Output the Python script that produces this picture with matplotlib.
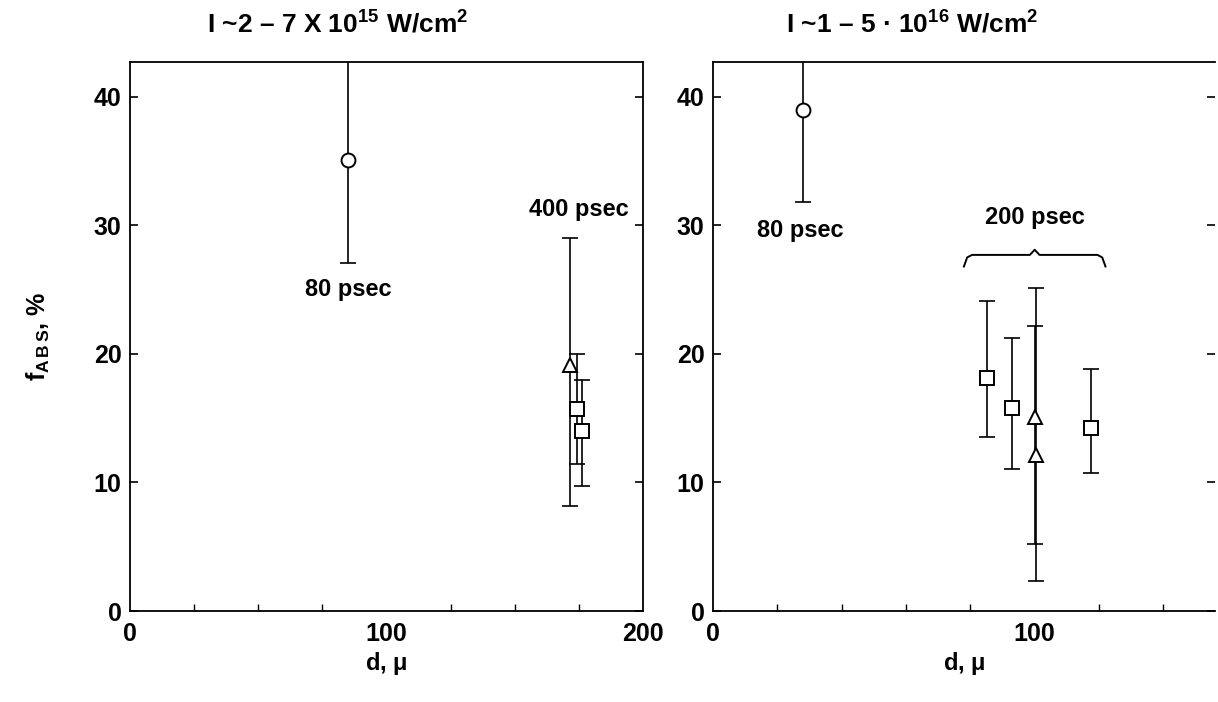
import matplotlib.pyplot as plt
import numpy as np
from matplotlib.ticker import MultipleLocator

plt.rcParams['font.family'] = ['Liberation Sans', 'DejaVu Sans']
plt.rcParams['font.weight'] = 'bold'
plt.rcParams['axes.titleweight'] = 'bold'
plt.rcParams['axes.labelweight'] = 'bold'
plt.rcParams['mathtext.fontset'] = 'custom'
plt.rcParams['mathtext.rm'] = 'Liberation Sans:bold'
plt.rcParams['mathtext.bf'] = 'Liberation Sans:bold'
plt.rcParams['mathtext.it'] = 'Liberation Sans:bold:italic'
plt.rcParams['mathtext.default'] = 'bf'

# left panel: I ~ 2-7e15 W/cm2
l_circ_x, l_circ_y, l_circ_lo, l_circ_hi = [85], [35.1], [27.1], [46.0]
l_tri_x, l_tri_y, l_tri_lo, l_tri_hi = [171.5], [19.1], [8.2], [29.0]
l_sq_x = [174.3, 176.3]
l_sq_y = [15.7, 14.0]
l_sq_lo = [11.4, 9.7]
l_sq_hi = [20.0, 18.0]

# right panel: I ~ 1-5e16 W/cm2
r_circ_x, r_circ_y, r_circ_lo, r_circ_hi = [28], [39.0], [31.8], [46.0]
r_sq_x = [85.3, 92.8, 117.5]
r_sq_y = [18.1, 15.8, 14.2]
r_sq_lo = [13.5, 11.05, 10.7]
r_sq_hi = [24.1, 21.2, 18.8]
r_tri_x = [100.0, 100.4]
r_tri_y = [15.1, 12.1]
r_tri_lo = [5.2, 2.3]
r_tri_hi = [22.2, 25.1]

brace_x = (78, 122)
brace_y = 27.7

fig = plt.figure(figsize=(12.18, 7.02), dpi=100)
ax1 = fig.add_axes([0.1067, 0.1296, 0.4212, 0.782])
ax2 = fig.add_axes([0.5854, 0.1296, 0.412, 0.782])

ebkw = dict(fmt='none', ecolor='black', elinewidth=1.2, capsize=5.5, capthick=1.2)
mkw = dict(ls='none', mfc='white', mec='black', mew=1.4, ms=10, zorder=5, clip_on=False)


def errs(y, lo, hi):
    y = np.array(y)
    return [y - np.array(lo), np.array(hi) - y]


def points(ax, x, y, lo, hi, marker):
    ax.errorbar(x, y, yerr=errs(y, lo, hi), **ebkw)
    ax.plot(x, y, marker=marker, **mkw)


points(ax1, l_circ_x, l_circ_y, l_circ_lo, l_circ_hi, 'o')
points(ax1, l_tri_x, l_tri_y, l_tri_lo, l_tri_hi, '^')
points(ax1, l_sq_x, l_sq_y, l_sq_lo, l_sq_hi, 's')

points(ax2, r_circ_x, r_circ_y, r_circ_lo, r_circ_hi, 'o')
points(ax2, r_sq_x, r_sq_y, r_sq_lo, r_sq_hi, 's')
points(ax2, r_tri_x, r_tri_y, r_tri_lo, r_tri_hi, '^')

ax1.set_xlim(0, 200)
ax2.set_xlim(0, 156)
for ax in (ax1, ax2):
    ax.set_ylim(0, 42.7)
    ax.yaxis.set_major_locator(MultipleLocator(10))
    ax.tick_params(axis='y', which='major', direction='in', length=6, width=1.2,
                   labelsize=18, right=True, pad=6)
    ax.tick_params(axis='x', which='major', direction='in', length=0,
                   labelsize=18, pad=8)
    ax.tick_params(axis='x', which='minor', direction='in', length=5, width=1.0)
    for s in ax.spines.values():
        s.set_linewidth(1.3)
    ax.set_xlabel('d, $\\mu$', fontsize=17, labelpad=3)

ax1.xaxis.set_major_locator(MultipleLocator(100))
ax1.xaxis.set_minor_locator(MultipleLocator(25))
ax2.xaxis.set_major_locator(MultipleLocator(100))
ax2.xaxis.set_minor_locator(MultipleLocator(20))
ax2.spines['right'].set_visible(False)

ax1.set_ylabel('f$_{A\\,B\\,S}$, %', fontsize=18, labelpad=30)

ttl = dict(fontsize=19, fontweight='bold', ha='center', va='center')
fig.text(338 / 1218, 1 - 24 / 702, 'I ~2 \u2013 7 X 10$^{15}$ W/cm$^2$', **ttl)
fig.text(912 / 1218, 1 - 24 / 702, 'I ~1 \u2013 5 \u00b7 10$^{16}$ W/cm$^2$', **ttl)

tkw = dict(fontsize=17, fontweight='bold', ha='center', va='center')
ax1.text(85, 25.0, '80 psec', **tkw)
ax1.text(175, 31.2, '400 psec', **tkw)
ax2.text(27.2, 29.6, '80 psec', **tkw)
ax2.text(100, 30.6, '200 psec', **tkw)

# curly brace over the 200 psec group
x0, x1 = brace_x
xm = (x0 + x1) / 2
bx = np.array([x0, x0 + 1.0, x0 + 2.5, xm - 1.5, xm, xm + 1.5, x1 - 2.5, x1 - 1.0, x1])
by = brace_y + np.array([-0.9, -0.2, 0, 0, 0.4, 0, 0, -0.2, -0.9])
ax2.plot(bx, by, color='black', lw=1.4)

fig.savefig('out.png', dpi=100)
